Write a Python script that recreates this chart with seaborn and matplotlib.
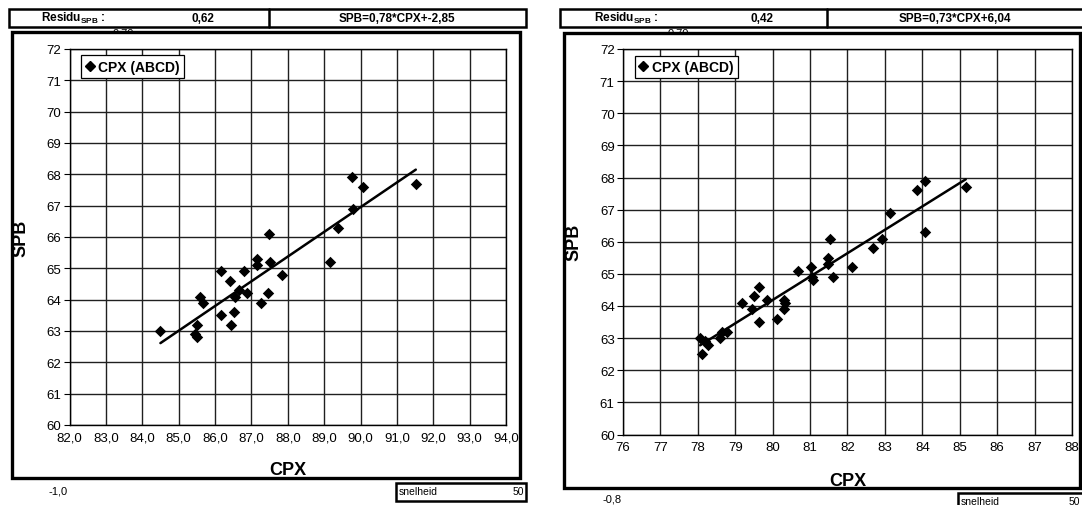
import numpy as np
import pandas as pd
import matplotlib
matplotlib.use("Agg")
import matplotlib.pyplot as plt
from matplotlib.patches import Rectangle
from matplotlib.lines import Line2D
import seaborn as sns

# ---------------- data ----------------
left_cpx = [84.50, 85.44, 85.50, 85.51, 85.58, 85.68, 86.16, 86.17, 86.40, 86.43,
            86.53, 86.56, 86.65, 86.80, 86.88, 87.15, 87.16, 87.27, 87.46, 87.49,
            87.50, 87.83, 89.17, 89.37, 89.78, 89.80, 90.07, 91.52]
left_spb = [63.0, 62.9, 62.8, 63.2, 64.1, 63.9, 63.5, 64.9, 64.6, 63.2,
            63.6, 64.1, 64.3, 64.9, 64.2, 65.3, 65.1, 63.9, 64.2, 66.1,
            65.2, 64.8, 65.2, 66.3, 67.9, 66.9, 67.6, 67.7]

right_cpx = [78.06, 78.12, 78.18, 78.27, 78.60, 78.65, 78.78, 79.17, 79.44, 79.50,
             79.64, 79.64, 79.85, 80.12, 80.29, 80.32, 80.29, 80.69, 81.02, 81.04,
             81.08, 81.48, 81.47, 81.53, 81.61, 82.13, 82.67, 82.93, 83.14, 83.85,
             84.07, 84.07, 85.16]
right_spb = [63.0, 62.5, 62.9, 62.8, 63.0, 63.2, 63.2, 64.1, 63.9, 64.3,
             64.6, 63.5, 64.2, 63.6, 64.2, 64.1, 63.9, 65.1, 65.2, 64.9,
             64.8, 65.5, 65.3, 66.1, 64.9, 65.2, 65.8, 66.1, 66.9, 67.6,
             67.9, 66.3, 67.7]

left_xticks = list(range(82, 95))
right_xticks = list(range(76, 89))
yticks = list(range(60, 73))

left_header = ["0,62", "SPB=0,78*CPX+-2,85"]
right_header = ["0,42", "SPB=0,73*CPX+6,04"]
left_footer = ["-1,0", "snelheid", "50"]
right_footer = ["-0,8", "snelheid", "50"]
hidden_texts = ["0,70", "0,70"]
series_name = "CPX (ABCD)"

# ---------------- style ----------------
sns.set_style("white")
plt.rcParams['font.family'] = ['Liberation Sans', 'DejaVu Sans']
plt.rcParams['mathtext.fontset'] = 'custom'
plt.rcParams['mathtext.rm'] = 'Liberation Sans'
plt.rcParams['mathtext.bf'] = 'Liberation Sans:bold'
plt.rcParams['text.color'] = 'black'
plt.rcParams['axes.labelcolor'] = 'black'
plt.rcParams['xtick.color'] = 'black'
plt.rcParams['ytick.color'] = 'black'

W, H = 1082, 506
fig = plt.figure(figsize=(W / 100, H / 100), dpi=100)
fig.patch.set_facecolor('white')


def fx(px):
    return px / W


def fy(py):
    return 1 - py / H


def panel(ax_rect, frame_rect, xs, ys, xticks, xfmt, header_box, header_div,
          header_cols, header_vals, footer, footer_pos, box_rect, hidden_x, hidden_txt):
    # hidden text behind the frame (only top peeks out)
    fig.text(fx(hidden_x), fy(28.5), hidden_txt, ha='center', va='top',
             fontsize=8, zorder=-3)
    # frame (white fill)
    x0, y0, x1, y1 = frame_rect
    fig.add_artist(Rectangle((fx(x0), fy(y1)), fx(x1 - x0), (y1 - y0) / H,
                             transform=fig.transFigure, facecolor='white',
                             edgecolor='black', linewidth=2.4, zorder=-1))
    # header box
    hx0, hy0, hx1, hy1 = header_box
    fig.add_artist(Rectangle((fx(hx0), fy(hy1)), fx(hx1 - hx0), (hy1 - hy0) / H,
                             transform=fig.transFigure, facecolor='white',
                             edgecolor='black', linewidth=1.8, zorder=1))
    fig.add_artist(Line2D([fx(header_div), fx(header_div)], [fy(hy0), fy(hy1)],
                          transform=fig.transFigure, color='black', linewidth=1.8, zorder=2))
    hyc = fy((hy0 + hy1) / 2)
    fig.text(fx(header_cols[0]), hyc, r"Residu$_{\mathbf{SPB}}$ :", ha='center', va='center',
             fontsize=8.5, fontweight='bold', zorder=3)
    fig.text(fx(header_cols[1]), hyc, header_vals[0], ha='center', va='center',
             fontsize=8.5, fontweight='bold', zorder=3)
    fig.text(fx(header_cols[2]), hyc, header_vals[1], ha='center', va='center',
             fontsize=8.5, fontweight='bold', zorder=3)

    # axes
    ax0, ay0, ax1, ay1 = ax_rect
    ax = fig.add_axes([fx(ax0), fy(ay1), fx(ax1 - ax0), (ay1 - ay0) / H])
    df = pd.DataFrame({'CPX': xs, 'SPB': ys})
    sns.regplot(data=df, x='CPX', y='SPB', ax=ax, ci=None, marker='D', color='black',
                scatter_kws={'s': 34, 'linewidths': 0, 'zorder': 3, 'alpha': 1},
                line_kws={'linewidth': 1.8, 'zorder': 4})
    ax.set_xlim(xticks[0], xticks[-1])
    ax.set_ylim(yticks[0], yticks[-1])
    ax.set_xticks(xticks)
    ax.set_yticks(yticks)
    ax.set_xticklabels([xfmt(v) for v in xticks], fontsize=9.5)
    ax.set_yticklabels([str(v) for v in yticks], fontsize=9.5)
    ax.grid(True, color='#202020', linewidth=1.0)
    ax.set_axisbelow(True)
    for s in ax.spines.values():
        s.set_color('black')
        s.set_linewidth(1.0)
    ax.tick_params(axis='y', which='major', direction='out', length=4, width=0.8,
                   color='black', pad=2, left=True)
    ax.tick_params(axis='x', which='major', direction='out', length=0, pad=5, bottom=True)
    ax.set_xlabel('CPX', fontsize=13, fontweight='bold')
    ax.set_ylabel('SPB', fontsize=13, fontweight='bold')
    ax.xaxis.set_label_coords(0.5, -0.097)
    ax.yaxis.set_label_coords(-0.091, 0.5)
    handle = Line2D([], [], marker='D', color='black', linestyle='none', markersize=5)
    leg = ax.legend([handle], [series_name], loc='upper left', bbox_to_anchor=(0.027, 0.983),
                    borderaxespad=0, fancybox=False, framealpha=1, edgecolor='black',
                    handlelength=0.6, handletextpad=0.3, borderpad=0.3,
                    prop={'weight': 'bold', 'size': 10})
    leg.get_frame().set_linewidth(0.9)

    # footer
    fig.text(fx(footer_pos[0]), fy(footer_pos[1]), footer[0], ha='center', va='center', fontsize=8)
    bx0, by0, bx1, by1, txt_right = box_rect
    fig.add_artist(Rectangle((fx(bx0), fy(by1)), fx(bx1 - bx0), (by1 - by0) / H,
                             transform=fig.transFigure, facecolor='white',
                             edgecolor='black', linewidth=1.8, zorder=1))
    byc = fy(min((by0 + by1) / 2, by0 + 8))
    fig.text(fx(bx0 + 3), byc, footer[1], ha='left', va='center', fontsize=7.5, zorder=3)
    fig.text(fx(txt_right), byc, footer[2], ha='right', va='center', fontsize=7.5, zorder=3)
    return ax


panel(ax_rect=(69.5, 50, 506, 426), frame_rect=(12, 33, 520, 479),
      xs=left_cpx, ys=left_spb, xticks=left_xticks, xfmt=lambda v: f"{v},0",
      header_box=(9, 9.5, 526, 27.5), header_div=269, header_cols=(73, 203, 397),
      header_vals=left_header, footer=left_footer, footer_pos=(58, 492),
      box_rect=(396, 484, 526, 502, 524), hidden_x=123, hidden_txt=hidden_texts[0])

panel(ax_rect=(623, 50, 1072, 435.5), frame_rect=(564, 34, 1080, 489),
      xs=right_cpx, ys=right_spb, xticks=right_xticks, xfmt=lambda v: f"{v}",
      header_box=(560, 9.5, 1090, 27.5), header_div=827, header_cols=(626, 762, 955),
      header_vals=right_header, footer=right_footer, footer_pos=(612, 500),
      box_rect=(958, 494, 1090, 512, 1080), hidden_x=678, hidden_txt=hidden_texts[1])

fig.savefig('out.png', dpi=100, facecolor='white')
